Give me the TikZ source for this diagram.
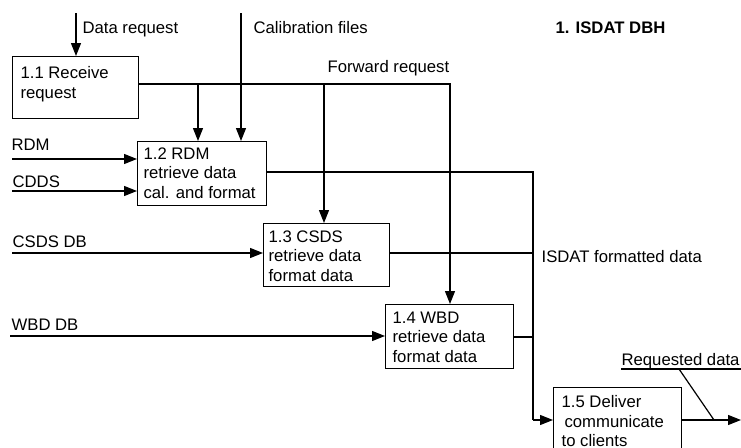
\documentclass[tikz,border=0pt]{standalone}
\usepackage{fontspec}
\setmainfont{Liberation Sans}
\usetikzlibrary{arrows.meta}
\begin{document}
\begin{tikzpicture}[x=1pt,y=-1pt,
  line width=1.2pt,
  box/.style={draw, rectangle, inner sep=0pt, anchor=north west, line width=1.2pt},
  txt/.style={inner sep=0pt, anchor=base west, font=\fontsize{16.7}{19.5}\selectfont},
  btxt/.style={inner sep=0pt, anchor=north west, align=left, font=\fontsize{16.7}{19.5}\selectfont},
  arr/.style={-{Triangle[length=13pt,width=10pt]}},
]
\useasboundingbox (0,0) rectangle (741,447);
\clip (0,0) rectangle (741,447);

% boxes
\node[box, minimum width=126pt, minimum height=62pt] (b11) at (12,56) {};
\node[box, minimum width=129pt, minimum height=64pt] (b12) at (137,141) {};
\node[box, minimum width=126pt, minimum height=63pt] (b13) at (263,223) {};
\node[box, minimum width=128pt, minimum height=64pt] (b14) at (385,304) {};
\node[box, minimum width=128pt, minimum height=80pt] (b15) at (553,387) {};

% box texts
\node[btxt] (t11) at (20,66) {1.1 Receive\\request};
\node[btxt] (t12) at (143,147) {1.2 RDM\\retrieve data\\cal. and format};
\node[btxt] (t13) at (268,230) {1.3 CSDS\\retrieve data\\format data};
\node[btxt] (t14) at (392,311) {1.4 WBD\\retrieve data\\format data};
\node[btxt] (t15) at (561,395) {1.5 Deliver\\\hspace{3pt}communicate\\to clients};

% labels
\node[txt] (ldr) at (82,33) {Data request};
\node[txt] (lcf) at (253,33) {Calibration files};
\node[txt, font=\fontsize{16.7}{19.5}\selectfont\bfseries] (ltitle) at (555,33) {1. ISDAT DBH};
\node[txt] (lfr) at (327,72) {Forward request};
\node[txt] (lrdm) at (11,150) {RDM};
\node[txt] (lcdds) at (12,187) {CDDS};
\node[txt] (lcsds) at (12,247) {CSDS DB};
\node[txt] (lwbd) at (11,330) {WBD DB};
\node[txt] (lisd) at (541,262) {ISDAT formatted data};
\node[txt] (lrq) at (621,365) {Requested data};

% coordinates
\coordinate (dr) at (76,13);
\coordinate (cf) at (241,13);
\coordinate (fr) at (450,84);
\coordinate (br1) at (198,84);
\coordinate (br2) at (324,84);
\coordinate (rdm) at (12,159);
\coordinate (cdds) at (12,191);
\coordinate (csds) at (12,253);
\coordinate (wbd) at (10,336);
\coordinate (bus) at (533,172);
\coordinate (isd) at (533,253);
\coordinate (w4) at (533,337);
\coordinate (j5) at (533,420);
\coordinate (out) at (741,420);
\coordinate (ul1) at (621,369);
\coordinate (ul2) at (741,369);
\coordinate (dg1) at (679,369);
\coordinate (dg2) at (714,420);

% connectors
\draw[arr] (dr) -- (dr |- b11.north);
\draw[arr] (cf) -- (cf |- b12.north);
\draw[arr] (b11.east |- fr) -- (fr) -- (fr |- b14.north);
\draw[arr] (br1) -- (br1 |- b12.north);
\draw[arr] (br2) -- (br2 |- b13.north);
\draw[arr] (rdm) -- (rdm -| b12.west);
\draw[arr] (cdds) -- (cdds -| b12.west);
\draw[arr] (csds) -- (csds -| b13.west);
\draw[arr] (wbd) -- (wbd -| b14.west);
\draw (b12.east |- bus) -- (bus) -- (j5);
\draw (isd -| b13.east) -- (isd);
\draw (w4 -| b14.east) -- (w4);
\draw[arr] (j5) -- (j5 -| b15.west);
\draw[arr] (j5 -| b15.east) -- (out);
\draw (ul1) -- (ul2);
\draw (dg1) -- (dg2);
\end{tikzpicture}
\end{document}
